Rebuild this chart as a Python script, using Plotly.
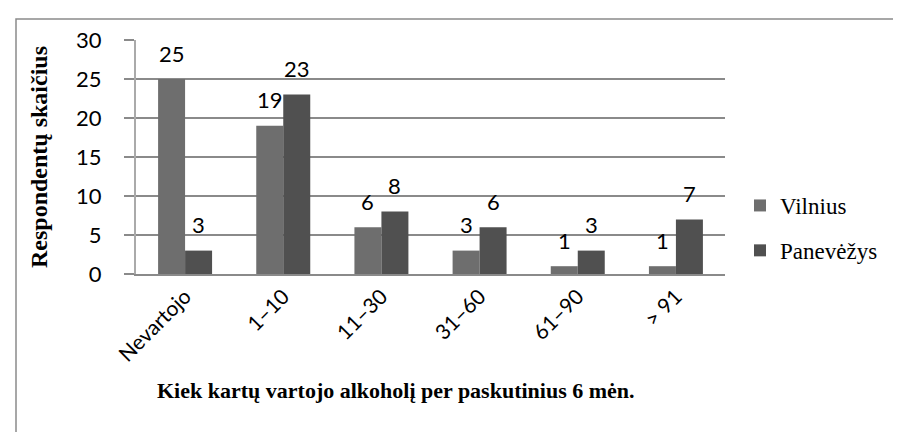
import plotly.graph_objects as go

categories = ["Nevartojo", "1–10", "11–30", "31–60", "61–90", "> 91"]
vilnius = [25, 19, 6, 3, 1, 1]
panevezys = [3, 23, 8, 6, 3, 7]
series_names = ["Vilnius", "Panevėžys"]
colors = ["#6e6e6e", "#505050"]
y_ticks = [0, 5, 10, 15, 20, 25, 30]

W, H = 901, 432
L, R, T, B = 128, 184, 32, 166
pw, ph = W - L - R, H - T - B
SERIF = "Liberation Serif, Times New Roman, serif"

fig = go.Figure()
for name, vals, col, grp in zip(series_names, [vilnius, panevezys], colors, ["a", "b"]):
    fig.add_trace(go.Bar(
        x=categories, y=vals, name=name, marker=dict(color=col, line=dict(width=0)),
        legendgroup=grp,
    ))

bar_px = pw / len(categories) * 0.55 / 2
for vals, sgn in [(vilnius, -1), (panevezys, 1)]:
    for c, v in zip(categories, vals):
        fig.add_annotation(x=c, y=v, text=str(v), showarrow=False,
                           xshift=sgn * bar_px / 2, yshift=26, yanchor="middle",
                           font=dict(family="Lato", size=22, color="#000"))

def px_x(p):
    return (p - L) / pw

def px_y(p):
    return (H - B - p) / ph

fig.add_annotation(xref="paper", yref="paper", x=px_x(388), y=px_y(397),
                   text="<b>Kiek kartų vartojo alkoholį per paskutinius 6 mėn.</b>",
                   showarrow=False, font=dict(family=SERIF, size=22, color="#000"))

fig.add_shape(type="rect", xref="paper", yref="paper",
              x0=px_x(8), x1=px_x(1000), y0=px_y(600), y1=px_y(11),
              line=dict(color="#8a8a8a", width=1.5), layer="below")

fig.update_layout(
    width=W, height=H,
    margin=dict(l=L, r=R, t=T, b=B, autoexpand=False),
    paper_bgcolor="white", plot_bgcolor="white",
    barmode="group", bargap=0.45, bargroupgap=0,
    showlegend=True,
    legend=dict(x=px_x(732), y=px_y(176), xanchor="left", yanchor="top",
                font=dict(family=SERIF, size=23, color="#000"),
                tracegroupgap=12, itemwidth=30),
    xaxis=dict(tickangle=-45, tickfont=dict(family="Lato", size=21, color="#000"),
               showline=True, linecolor="#8a8a8a", linewidth=2, ticks="",
               showgrid=False),
    yaxis=dict(range=[0, 30], tickvals=y_ticks, showgrid=True, gridcolor="#8a8a8a", gridwidth=2,
               ticks="outside", ticklen=10, tickcolor="#8a8a8a", tickwidth=2,
               showline=True, linecolor="#aaaaaa", linewidth=2,
               tickfont=dict(family="Lato", size=22, color="#000"),
               ticklabelstandoff=18, zeroline=False,
               title=dict(text="<b>Respondentų skaičius</b>", standoff=22,
                          font=dict(family=SERIF, size=24, color="#000"))),
)

fig.write_html("out.html")
